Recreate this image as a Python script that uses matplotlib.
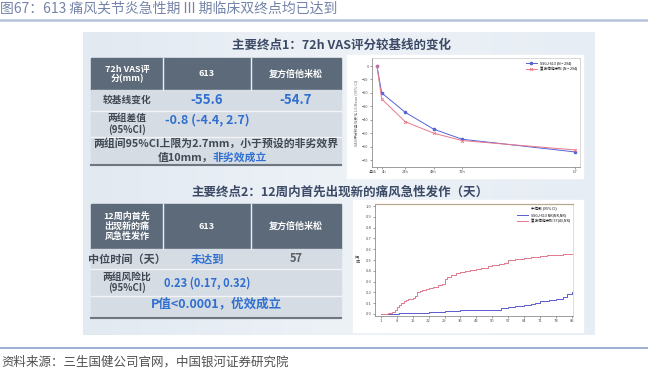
import numpy as np
import matplotlib
matplotlib.use('Agg')
from matplotlib import pyplot as plt
from matplotlib.patches import Rectangle

plt.rcParams['font.family'] = ['Noto Sans CJK SC', 'DejaVu Sans']

W, H = 648, 371

# ---- data: primary endpoint 1 (72h VAS change) ----
time_h = [0, 4, 24, 48, 72, 168]
time_labels = ['基线', '4h', '24h', '48h', '72h', 'D7']
vas_613 = [0, -20, -34.5, -47, -54.5, -64]
vas_ctrl = [0, -24.5, -41.5, -50, -55.5, -62.5]
vas_ticks = [0, -10, -20, -30, -40, -50, -60, -70]

# ---- data: primary endpoint 2 (cumulative flare rate) ----
blue_day = [1, 9, 15, 22, 27, 29, 36, 50, 54, 57, 60, 64, 67, 69, 71, 75, 78, 81, 83, 85]
blue_rate = [0, 0.005, 0.01, 0.015, 0.02, 0.03, 0.035, 0.04, 0.05, 0.06,
             0.07, 0.08, 0.09, 0.10, 0.12, 0.13, 0.14, 0.16, 0.18, 0.20]
red_day = [1, 4, 6, 7, 8, 9, 10, 11, 12, 13, 15, 16, 17, 18, 19, 21, 22, 24, 26, 28,
           29, 30, 32, 34, 36, 38, 40, 43, 45, 48, 50, 53, 55, 57, 60, 64, 67, 71, 74, 78, 81, 85]
red_rate = [0, 0.01, 0.02, 0.04, 0.06, 0.08, 0.10, 0.12, 0.13, 0.14, 0.15, 0.17, 0.20, 0.21,
            0.22, 0.23, 0.24, 0.25, 0.27, 0.28, 0.32, 0.34, 0.36, 0.38, 0.39, 0.40, 0.41,
            0.42, 0.43, 0.44, 0.45, 0.46, 0.47, 0.50, 0.51, 0.52, 0.53, 0.54, 0.545, 0.55, 0.555, 0.56]
day_ticks = [1, 8, 15, 22, 29, 36, 43, 50, 57, 64, 71, 78, 85]
rate_ticks = [0.0, 0.1, 0.2, 0.3, 0.4, 0.5, 0.6, 0.7, 0.8, 0.9, 1.0]

# ---- table texts ----
t1_header = ['72h VAS评\n分(mm)', '613', '复方倍他米松']
t1_change = ['较基线变化', '-55.6', '-54.7']
t1_diff = ['两组差值\n(95%CI)', '-0.8 (-4.4, 2.7)']
t2_header = ['12周内首先\n出现新的痛\n风急性发作', '613', '复方倍他米松']
t2_median = ['中位时间（天）', '未达到', '57']
t2_hr = ['两组风险比\n(95%CI)', '0.23 (0.17, 0.32)']

BLUE = '#2f6fd0'
DARK = '#404852'
HEAD = '#5d6a7a'
CELL = '#d6dce4'


def px_rect(l, t, r, b):
    return [l / W, 1 - b / H, (r - l) / W, (b - t) / H]


fig = plt.figure(figsize=(W / 100, H / 100), dpi=100, facecolor='w')
bg = fig.add_axes([0, 0, 1, 1])
bg.set_xlim(0, W)
bg.set_ylim(H, 0)
bg.axis('off')

# page title, rules, source
bg.text(0, 9, '图67：613 痛风关节炎急性期 III 期临床双终点均已达到', fontsize=10,
        color='#7484a8', va='center', ha='left')
bg.plot([0, W], [20, 20], color='#b6c2dc', lw=1.8)
bg.plot([0, W], [347.5, 347.5], color='#8ea2d0', lw=1.2)
bg.text(1, 362, '资料来源：三生国健公司官网，中国银河证券研究院', fontsize=9,
        color='#505050', va='center', ha='left')

# slide panel with soft gradient
grad = np.linspace(0, 1, 256).reshape(1, -1)
cmap = matplotlib.colors.LinearSegmentedColormap.from_list('slide', ['#e2e9f1', '#edf2f7', '#e6edf4'])
bg.imshow(grad, extent=[83, 595, 335, 32], cmap=cmap, aspect='auto', zorder=0)
bg.set_xlim(0, W)
bg.set_ylim(H, 0)

# headings
bg.text(341, 45, '主要终点1：72h VAS评分较基线的变化', fontsize=9, fontweight='bold',
        color='#3c4a66', ha='center', va='center')
bg.text(340, 192, '主要终点2：12周内首先出现新的痛风急性发作（天）', fontsize=9, fontweight='bold',
        color='#3c4a66', ha='center', va='center')


def draw_table(cols, rows):
    x0, x1 = cols[0], cols[-1]
    # header
    bg.add_patch(Rectangle((x0, rows[0]), x1 - x0, rows[1] - rows[0], color=HEAD, zorder=2))
    bg.add_patch(Rectangle((x0, rows[1]), x1 - x0, rows[-1] - rows[1], color=CELL, zorder=2))
    for c in cols[1:-1]:
        bg.plot([c, c], [rows[0], rows[1]], color='#eef1f5', lw=1, zorder=3)
    for r in rows[2:-1]:
        bg.plot([x0, x1], [r, r], color='#f2f4f7', lw=1, zorder=3)
    bg.plot([x0, x1], [rows[-1], rows[-1]], color='#6e7680', lw=1.5, zorder=3)


cols = [91, 163, 251, 341]
ccx = [(cols[i] + cols[i + 1]) / 2 for i in range(3)]

# table 1
rows1 = [58, 90, 111, 137, 165]
draw_table(cols, rows1)
for i, s in enumerate(t1_header):
    bg.text(ccx[i], 74, s, color='w', fontsize=6.5, fontweight='bold', ha='center', va='center',
            linespacing=1.1, zorder=4)
bg.text(ccx[0], 100, t1_change[0], color=DARK, fontsize=7, fontweight='bold', ha='center', va='center', zorder=4)
for i in (1, 2):
    bg.text(ccx[i], 100, t1_change[i], color=BLUE, fontsize=9.5, fontweight='bold', ha='center', va='center', zorder=4)
bg.text(ccx[0], 124, t1_diff[0], color=DARK, fontsize=7, fontweight='bold', ha='center', va='center',
        linespacing=1.1, zorder=4)
bg.text(ccx[1], 120, t1_diff[1], color=BLUE, fontsize=9, fontweight='bold', ha='center', va='center', zorder=4)
bg.text(216, 143, '两组间95%CI上限为2.7mm，小于预设的非劣效界', color=DARK, fontsize=7.8,
        fontweight='bold', ha='center', va='center', zorder=4)
bg.text(213, 158, '值10mm，', color=DARK, fontsize=7.8, fontweight='bold', ha='right', va='center', zorder=4)
bg.text(213, 158, '非劣效成立', color=BLUE, fontsize=7.8, fontweight='bold', ha='left', va='center', zorder=4)

# table 2
rows2 = [204, 249, 269, 296, 318]
draw_table(cols, rows2)
for i, s in enumerate(t2_header):
    bg.text(ccx[i], 226.5, s, color='w', fontsize=6.5, fontweight='bold', ha='center', va='center',
            linespacing=1.15, zorder=4)
bg.text(ccx[0], 259, t2_median[0], color=DARK, fontsize=8, fontweight='bold', ha='center', va='center', zorder=4)
bg.text(ccx[1], 259, t2_median[1], color=BLUE, fontsize=8, fontweight='bold', ha='center', va='center', zorder=4)
bg.text(ccx[2], 259, t2_median[2], color='#5a5f66', fontsize=8, fontweight='bold', ha='center', va='center', zorder=4)
bg.text(ccx[0], 282.5, t2_hr[0], color=DARK, fontsize=7, fontweight='bold', ha='center', va='center',
        linespacing=1.1, zorder=4)
bg.text(ccx[1], 283, t2_hr[1], color=BLUE, fontsize=8, fontweight='bold', ha='center', va='center', zorder=4)
bg.text(216, 304, 'P值<0.0001，优效成立', color=BLUE, fontsize=9, fontweight='bold',
        ha='center', va='center', zorder=4)

# white boxes behind the two chart images
bg.add_patch(Rectangle((347, 55), 236, 123, color='w', zorder=2))
bg.add_patch(Rectangle((353, 200), 230, 132, color='w', zorder=2))

# ---- chart 1: VAS change over time ----
ax1 = fig.add_axes(px_rect(372, 58, 580, 167))
ax1.plot(time_h, vas_613, color='#5563d6', lw=0.7, marker='o', ms=1.6, label='SSGJ-613 (N = 294)')
ax1.plot(time_h, vas_ctrl, color='#e8788a', lw=0.7, marker='x', ms=2, mew=0.6, label='复方倍他米松 (N = 294)')
ax1.set_xlim(-4.2, 172)
ax1.set_ylim(-75.2, 6)
ax1.set_xticks(time_h)
ax1.set_xticklabels(time_labels)
ax1.set_yticks(vas_ticks)
ax1.tick_params(labelsize=2.8, length=1.5, width=0.4, pad=1, colors='#555555')
xl = ax1.get_xticklabels()
xl[0].set_ha('right')
xl[1].set_ha('left')
for s in ax1.spines.values():
    s.set_linewidth(0.5)
    s.set_color('#c8c8c8')
ax1.spines['left'].set_color('#777777')
ax1.spines['bottom'].set_color('#777777')
ax1.set_ylabel('VAS评分较基线变化 LS Mean (95% CI)', fontsize=2.8, color='#666666', labelpad=2)
ax1.legend(loc='upper right', fontsize=2.6, frameon=False, handlelength=3)

# ---- chart 2: cumulative incidence of first new flare ----
ax2 = fig.add_axes(px_rect(375, 204, 573, 316))
ax2.step(blue_day, blue_rate, where='post', color='#5a5ad0', lw=0.7, label='SSGJ-613 NR(NR,NR)')
ax2.step(red_day, red_rate, where='post', color='#e0788c', lw=0.7, label='复方倍他米松 57(43,NR)')
ax2.set_xlim(-1.6, 85.5)
ax2.set_ylim(-0.02, 1.02)
ax2.set_xticks(day_ticks)
ax2.set_yticks(rate_ticks)
ax2.tick_params(labelsize=3, length=1.5, width=0.4, pad=1, colors='#555555')
for s in ax2.spines.values():
    s.set_linewidth(0.5)
    s.set_color('#d0d0d0')
ax2.spines['left'].set_color('#777777')
ax2.spines['bottom'].set_color('#777777')
ax2.spines['top'].set_color('#b8a88c')
ax2.spines['top'].set_linewidth(0.9)
ax2.set_ylabel('概\n率', fontsize=3, color='#555555', rotation=0, va='center', labelpad=6)
ax2.legend(loc='upper right', fontsize=2.6, frameon=False, handlelength=3,
           title='中位数 (95% CI)', title_fontsize=2.6)

fig.savefig('out.png', dpi=100, facecolor='w')
